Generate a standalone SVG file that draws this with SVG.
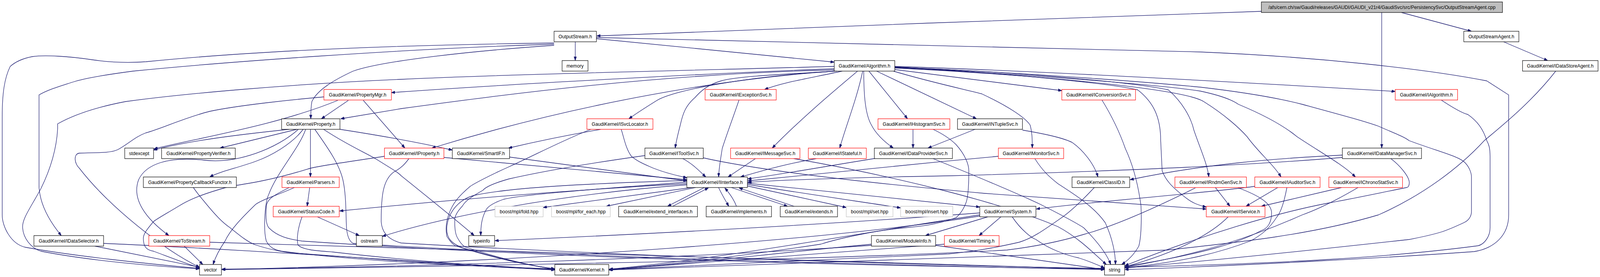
<svg xmlns="http://www.w3.org/2000/svg" width="4386" height="709" viewBox="0 0 4386 709">
<style>
rect.n{fill:#ffffff;stroke:#000000;stroke-width:1.2}
rect.r{fill:#ffffff;stroke:#ff0000;stroke-width:1.2}
rect.g{fill:#ffffff;stroke:#bfbfbf;stroke-width:1.2}
rect.m{fill:#bfbfbf;stroke:#000000;stroke-width:1.2}
text{font-family:"Liberation Sans",Arial,sans-serif;font-size:13px;fill:#000000;text-anchor:middle}
path.e{fill:none;stroke:#191970;stroke-width:1.3;marker-end:url(#arr)}
</style>
<defs>
<marker id="arr" viewBox="0 0 10 7" refX="10" refY="3.5" markerWidth="10" markerHeight="7" markerUnits="userSpaceOnUse" orient="auto">
<path d="M0,0 L10,3.5 L0,7 Z" fill="#191970" stroke="#191970"/>
</marker>
</defs>
<rect width="4386" height="709" fill="#ffffff"/>
<g id="diagram" transform="scale(0.9338,1)">
<g id="edges">
<path class="e" d="M3458,29 C3000,45 2100,72 1636,92"/>
<path class="e" d="M3842,32 L4034,80"/>
<path class="e" d="M3788,32 L3788,379"/>
<path class="e" d="M4122,107 L4243,155"/>
<path class="e" d="M1577,107 L1577,155"/>
<path class="e" d="M1635,99 L2287,159"/>
<path class="e" d="M1635,96 C1900,99 2400,110 3290,133 C3600,145 3900,175 4076,207 L4136,243 L4136,550 C4136,600 4100,635 4041,644 C3800,660 3400,680 3084,690"/>
<path class="e" d="M1519,110 C1100,115 700,130 400,158 C340,162 290,158 253,153 C190,144 120,140 88,145 C60,150 40,160 28,170 C12,200 6,240 6,300 L6,550 C6,580 30,625 70,633 C200,655 400,675 547,687"/>
<path class="e" d="M1519,113 C1100,125 600,160 365,182 C300,190 231,200 200,210 C160,222 130,230 107,243 L107,480 C110,520 130,560 168,603"/>
<path class="e" d="M1519,116 C1300,130 1050,155 968,182 C915,205 870,230 855,260 C852,275 852,290 852,304"/>
<path class="e" d="M2287,176 C2000,185 1400,215 1073,237"/>
<path class="e" d="M2287,170 C1900,180 1400,190 1100,203 C800,215 500,240 344,260 C260,275 200,295 158,317 L158,330 C155,380 140,430 112,483 C85,530 60,560 62,583 C64,610 85,635 112,643 C250,668 430,682 547,688"/>
<path class="e" d="M2287,179 C1800,190 1400,240 1100,278 L934,304"/>
<path class="e" d="M2290,182 C2000,200 1600,260 1184,379"/>
<path class="e" d="M2292,182 C2050,195 1850,230 1801,257 C1770,275 1745,290 1724,304"/>
<path class="e" d="M2309,182 C2220,200 2150,210 2096,229"/>
<path class="e" d="M2295,182 C2150,190 2020,195 1977,207 C1940,217 1921,233 1905,250 C1880,270 1872,290 1865,320 C1858,345 1854,360 1851,379"/>
<path class="e" d="M2351,182 C2290,230 2200,300 2117,379"/>
<path class="e" d="M2365,182 C2350,250 2320,320 2302,379"/>
<path class="e" d="M2368,182 C2368,230 2370,290 2389,320 C2400,340 2420,360 2449,379"/>
<path class="e" d="M2382,182 L2488,304"/>
<path class="e" d="M2403,182 L2677,304"/>
<path class="e" d="M2449,182 C2550,210 2650,230 2691,240 C2760,270 2810,300 2824,320 C2830,340 2830,360 2830,379"/>
<path class="e" d="M2453,178 L2911,232"/>
<path class="e" d="M2453,170 C2800,180 3300,205 3825,234"/>
<path class="e" d="M2453,172 C2800,185 3100,210 3203,230 C3240,260 3265,300 3273,333 C3290,380 3310,420 3314,453"/>
<path class="e" d="M2453,174 C2900,195 3250,230 3300,260 C3360,295 3400,330 3419,350 C3450,390 3490,420 3512,453"/>
<path class="e" d="M2453,173 C2900,195 3200,220 3290,233 C3350,245 3380,257 3395,267 C3480,300 3530,330 3556,350 C3620,390 3680,420 3716,453"/>
<path class="e" d="M2453,171 C2800,190 3050,215 3119,230 C3160,260 3182,297 3182,360 L3186,437 C3195,460 3210,477 3252,507 C3270,520 3285,525 3307,530"/>
<path class="e" d="M2453,172 C2900,190 3200,215 3290,223 C3400,235 3500,250 3570,267 C3680,295 3740,310 3779,323 C3820,340 3850,350 3863,360 C3950,390 4000,400 4017,417 C4030,430 4034,445 4034,453 L4034,541 C4034,555 4025,565 4013,570 C3990,580 3970,588 3954,593 C3920,603 3890,608 3863,613 C3600,640 3350,665 3084,686"/>
<path class="e" d="M955,257 L881,304"/>
<path class="e" d="M926,257 C760,320 560,350 422,381"/>
<path class="e" d="M996,257 L1110,379"/>
<path class="e" d="M888,248 C800,255 650,270 575,285 C510,300 440,330 400,340 C370,350 350,370 323,383 C300,393 260,390 217,392 C200,395 205,420 217,430 C300,530 450,640 547,684"/>
<path class="e" d="M793,331 C650,345 520,360 421,384"/>
<path class="e" d="M814,331 L603,379"/>
<path class="e" d="M818,331 C760,380 650,420 560,410 C460,400 400,420 380,460 C360,510 400,560 463,603"/>
<path class="e" d="M831,331 C800,370 740,400 701,413 C650,430 600,440 575,453"/>
<path class="e" d="M851,331 L851,453"/>
<path class="e" d="M838,331 C820,380 760,440 737,497 C725,520 722,590 730,617 C740,635 755,640 772,643 C1000,670 1300,682 1521,688"/>
<path class="e" d="M863,331 C900,380 930,420 940,460 C950,500 948,560 950,583 C952,605 958,618 968,623 C1600,660 2500,680 3028,690"/>
<path class="e" d="M887,331 C950,370 1000,390 1031,407 C1070,430 1090,440 1100,450 C1180,510 1260,570 1300,603"/>
<path class="e" d="M932,331 C1050,348 1150,365 1240,384"/>
<path class="e" d="M849,480 L842,528"/>
<path class="e" d="M807,480 C760,500 720,510 701,523 C660,560 630,590 617,617 C600,640 590,660 584,677"/>
<path class="e" d="M793,480 C750,500 730,510 730,530 C728,560 730,575 737,583 C760,605 790,612 828,617 C1500,660 2400,682 3028,688"/>
<path class="e" d="M870,555 L985,603"/>
<path class="e" d="M828,555 C818,580 812,610 817,627 C830,640 870,642 912,645 C1100,665 1300,680 1521,690"/>
<path class="e" d="M505,630 L556,677"/>
<path class="e" d="M575,620 C1000,630 2000,665 3028,689"/>
<path class="e" d="M260,630 L547,684"/>
<path class="e" d="M284,623 C700,640 1100,668 1521,690"/>
<path class="e" d="M530,480 C545,500 555,510 561,517 C590,550 610,570 631,583 C660,605 680,620 701,627 C760,645 800,648 842,650 C1100,668 1300,682 1521,691"/>
<path class="e" d="M1217,403 L1883,460"/>
<path class="e" d="M1054,400 C950,415 870,425 842,433 C750,460 680,470 631,477 C560,495 520,510 491,527 C450,550 430,560 421,567 C400,590 393,600 393,610 C393,630 400,640 421,643 C470,660 510,675 547,685"/>
<path class="e" d="M1121,406 C1110,420 1100,430 1080,440 C1050,460 1045,500 1045,567 C1047,600 1070,615 1100,622 C1800,660 2600,680 3028,687"/>
<path class="e" d="M1397,402 L1883,463"/>
<path class="e" d="M1647,331 C1560,345 1480,360 1394,379"/>
<path class="e" d="M1703,331 C1710,350 1715,380 1731,400 C1750,415 1773,423 1790,430 C1830,445 1860,450 1883,455"/>
<path class="e" d="M1620,331 C1540,360 1460,400 1395,427 C1340,450 1300,470 1289,477 C1260,500 1240,520 1230,550 C1222,570 1222,590 1225,605 C1235,620 1245,628 1251,630 C1350,660 1450,680 1521,688"/>
<path class="e" d="M1872,406 C1900,420 1920,440 1935,453"/>
<path class="e" d="M1928,404 C2100,440 2400,470 2700,495 C3000,515 3200,528 3307,535"/>
<path class="e" d="M1769,398 C1600,420 1480,440 1395,458 C1350,470 1330,480 1324,487 C1290,505 1275,515 1268,527 C1255,540 1248,550 1247,560 C1246,580 1248,600 1255,610 C1262,622 1268,628 1275,632 C1380,665 1460,680 1521,689"/>
<path class="e" d="M2071,406 L1996,453"/>
<path class="e" d="M2176,406 C2450,450 2750,520 2900,580 C2960,610 3000,650 3033,677"/>
<path class="e" d="M2026,256 C2010,300 1990,350 1980,380 C1975,410 1971,430 1970,453"/>
<path class="e" d="M2238,406 C2150,420 2080,440 2030,453"/>
<path class="e" d="M2403,405 C2300,420 2150,445 2050,458"/>
<path class="e" d="M2558,406 C2700,460 2800,500 2852,523 C2920,555 2950,570 2971,583 C3010,620 3035,650 3045,677"/>
<path class="e" d="M2503,331 L2503,379"/>
<path class="e" d="M2558,331 C2590,345 2610,360 2621,370 C2645,395 2656,420 2656,437 C2656,470 2655,500 2649,517 C2640,540 2630,550 2621,557 C2570,575 2520,580 2481,583 C2400,590 2300,610 2250,625 C2000,660 1800,680 1669,690"/>
<path class="e" d="M2673,331 L2544,379"/>
<path class="e" d="M2803,333 C2880,345 2920,355 2940,365 C2970,385 3000,420 3010,453"/>
<path class="e" d="M2737,400 C2500,420 2250,445 2050,463"/>
<path class="e" d="M2837,406 C2860,440 2880,455 2900,470 C2950,500 3000,530 3030,570 C3050,610 3058,650 3058,677"/>
<path class="e" d="M3021,256 C3050,300 3070,340 3085,380 C3105,420 3120,470 3128,527 C3130,570 3128,610 3122,630 C3110,650 3095,665 3075,677"/>
<path class="e" d="M3000,480 C2960,520 2930,545 2906,560 C2860,590 2830,610 2794,620 C2700,640 2650,645 2600,650 C2200,670 1900,682 1669,690"/>
<path class="e" d="M3680,397 C3500,405 3300,420 3098,460"/>
<path class="e" d="M3680,403 C3400,425 3000,440 2600,450 C2300,455 2150,460 2050,467"/>
<path class="e" d="M3813,406 C3840,425 3860,450 3863,463 C3865,475 3860,480 3856,480 C3750,500 3700,510 3640,520 C3500,545 3300,600 3084,680"/>
<path class="e" d="M4265,182 C4200,260 4120,320 4069,360 C4000,430 3900,500 3779,550 C3600,600 3400,620 3200,640 C2500,665 2000,682 1669,691"/>
<path class="e" d="M3951,256 C3990,280 4010,290 4024,293 C4050,310 4066,330 4076,360 C4082,370 4085,380 4085,400 L4085,583 C4085,605 4070,625 4052,629 C3800,660 3500,675 3084,684"/>
<path class="e" d="M3332,480 L3372,528"/>
<path class="e" d="M3277,481 C3150,540 3050,580 2971,600 C2900,620 2830,632 2760,640 C2300,665 1200,682 608,690"/>
<path class="e" d="M3395,481 C3450,500 3486,520 3486,545 C3486,570 3475,585 3458,590 C3400,620 3300,650 3084,682"/>
<path class="e" d="M3503,480 L3416,528"/>
<path class="e" d="M3440,477 C3300,495 3000,515 2841,535"/>
<path class="e" d="M3528,480 C3520,520 3510,545 3500,556 C3480,585 3460,600 3430,616 C3350,645 3250,670 3084,685"/>
<path class="e" d="M3678,480 L3458,528"/>
<path class="e" d="M3723,480 C3650,520 3600,540 3570,550 C3450,600 3300,650 3084,684"/>
<path class="e" d="M3367,555 C3330,590 3250,640 3084,683"/>
<path class="e" d="M1896,480 L1489,531"/>
<path class="e" d="M1907,480 L1662,528"/>
<path class="e" d="M1931,480 L1830,528"/>
<path class="e" d="M1844,528 L1942,481"/>
<path class="e" d="M1970,480 C1980,500 1990,515 1998,528"/>
<path class="e" d="M2019,528 C2012,510 2000,495 1987,481"/>
<path class="e" d="M2005,480 L2159,528"/>
<path class="e" d="M2177,528 L2026,481"/>
<path class="e" d="M2049,476 L2320,531"/>
<path class="e" d="M2049,472 C2200,495 2350,515 2469,532"/>
<path class="e" d="M2049,469 C2300,495 2550,515 2686,530"/>
<path class="e" d="M1883,470 C1500,490 1200,515 931,540"/>
<path class="e" d="M1883,473 C1500,500 1200,560 1048,605"/>
<path class="e" d="M1883,466 C1700,480 1450,495 1381,510 C1350,520 1335,530 1331,540 C1320,560 1318,580 1318,603"/>
<path class="e" d="M1883,462 C1600,470 1400,480 1300,500 C1260,510 1230,540 1225,580 C1222,610 1240,625 1270,635 C1400,670 1470,682 1521,689"/>
<path class="e" d="M2686,550 C2400,590 2000,660 1670,689"/>
<path class="e" d="M2686,545 C2400,565 2000,590 1357,616"/>
<path class="e" d="M2686,553 C2300,610 1500,670 608,690"/>
<path class="e" d="M2708,555 L2537,603"/>
<path class="e" d="M2744,555 L2684,603"/>
<path class="e" d="M2775,555 C2800,590 2830,610 2840,613 C2880,640 2930,655 2957,660 C2990,670 3010,678 3028,686"/>
<path class="e" d="M2565,628 L3028,690"/>
<path class="e" d="M2389,625 C2100,650 1900,675 1670,690"/>
<path class="e" d="M2389,628 C1900,660 1200,682 608,689"/>
<path class="e" d="M2589,625 C2200,650 1900,675 1670,690"/>
</g>
<g id="nodes">
<g id="n-main"><rect class="m" x="3458" y="5" width="661" height="27"/><text x="3788.5" y="23">/afs/cern.ch/sw/Gaudi/releases/GAUDI/GAUDI_v21r4/GaudiSvc/src/PersistencySvc/OutputStreamAgent.cpp</text></g>
<g id="n-OutputStream"><rect class="n" x="1519" y="80" width="116" height="27"/><text x="1577" y="98">OutputStream.h</text></g>
<g id="n-OutputStreamAgent"><rect class="n" x="4013" y="80" width="151" height="27"/><text x="4088.5" y="98">OutputStreamAgent.h</text></g>
<g id="n-memory"><rect class="n" x="1541" y="155" width="71" height="27"/><text x="1576.5" y="173">memory</text></g>
<g id="n-Algorithm"><rect class="n" x="2287" y="155" width="166" height="27"/><text x="2370" y="173">GaudiKernel/Algorithm.h</text></g>
<g id="n-IDataStoreAgent"><rect class="n" x="4174" y="155" width="207" height="27"/><text x="4277.5" y="173">GaudiKernel/IDataStoreAgent.h</text></g>
<g id="n-PropertyMgr"><rect class="r" x="888" y="229" width="185" height="27"/><text x="980.5" y="247">GaudiKernel/PropertyMgr.h</text></g>
<g id="n-IExceptionSvc"><rect class="r" x="1933" y="229" width="195" height="27"/><text x="2030.5" y="247">GaudiKernel/IExceptionSvc.h</text></g>
<g id="n-IConversionSvc"><rect class="r" x="2911" y="229" width="202" height="27"/><text x="3012" y="247">GaudiKernel/IConversionSvc.h</text></g>
<g id="n-IAlgorithm"><rect class="r" x="3825" y="229" width="171" height="27"/><text x="3910.5" y="247">GaudiKernel/IAlgorithm.h</text></g>
<g id="n-Property"><rect class="n" x="772" y="304" width="160" height="27"/><text x="852" y="322">GaudiKernel/Property.h</text></g>
<g id="n-ISvcLocator"><rect class="r" x="1609" y="304" width="181" height="27"/><text x="1699.5" y="322">GaudiKernel/ISvcLocator.h</text></g>
<g id="n-IHistogramSvc"><rect class="r" x="2407" y="304" width="197" height="27"/><text x="2505.5" y="322">GaudiKernel/IHistogramSvc.h</text></g>
<g id="n-INTupleSvc"><rect class="n" x="2625" y="304" width="178" height="27"/><text x="2714" y="322">GaudiKernel/INTupleSvc.h</text></g>
<g id="n-stdexcept"><rect class="n" x="342" y="379" width="79" height="27"/><text x="381.5" y="397">stdexcept</text></g>
<g id="n-PropertyVerifier"><rect class="n" x="443" y="379" width="202" height="27"/><text x="544" y="397">GaudiKernel/PropertyVerifier.h</text></g>
<g id="n-IProperty"><rect class="r" x="1054" y="379" width="163" height="27"/><text x="1135.5" y="397">GaudiKernel/IProperty.h</text></g>
<g id="n-SmartIF"><rect class="n" x="1240" y="379" width="157" height="27"/><text x="1318.5" y="397">GaudiKernel/SmartIF.h</text></g>
<g id="n-IToolSvc"><rect class="n" x="1768" y="379" width="160" height="27"/><text x="1848" y="397">GaudiKernel/IToolSvc.h</text></g>
<g id="n-IMessageSvc"><rect class="r" x="2003" y="379" width="190" height="27"/><text x="2098" y="397">GaudiKernel/IMessageSvc.h</text></g>
<g id="n-IStateful"><rect class="r" x="2216" y="379" width="159" height="27"/><text x="2295.5" y="397">GaudiKernel/IStateful.h</text></g>
<g id="n-IDataProviderSvc"><rect class="n" x="2397" y="379" width="214" height="27"/><text x="2504" y="397">GaudiKernel/IDataProviderSvc.h</text></g>
<g id="n-IMonitorSvc"><rect class="r" x="2737" y="379" width="179" height="27"/><text x="2826.5" y="397">GaudiKernel/IMonitorSvc.h</text></g>
<g id="n-IDataManagerSvc"><rect class="n" x="3680" y="379" width="217" height="27"/><text x="3788.5" y="397">GaudiKernel/IDataManagerSvc.h</text></g>
<g id="n-PropertyCallbackFunctor"><rect class="n" x="393" y="453" width="255" height="27"/><text x="520.5" y="471">GaudiKernel/PropertyCallbackFunctor.h</text></g>
<g id="n-Parsers"><rect class="r" x="773" y="453" width="157" height="27"/><text x="851.5" y="471">GaudiKernel/Parsers.h</text></g>
<g id="n-IInterface"><rect class="n" x="1883" y="453" width="166" height="27"/><text x="1966" y="471">GaudiKernel/IInterface.h</text></g>
<g id="n-ClassID"><rect class="n" x="2939" y="453" width="158" height="27"/><text x="3018" y="471">GaudiKernel/ClassID.h</text></g>
<g id="n-IRndmGenSvc"><rect class="r" x="3221" y="453" width="196" height="27"/><text x="3319" y="471">GaudiKernel/IRndmGenSvc.h</text></g>
<g id="n-IAuditorSvc"><rect class="r" x="3440" y="453" width="179" height="27"/><text x="3529.5" y="471">GaudiKernel/IAuditorSvc.h</text></g>
<g id="n-IChronoStatSvc"><rect class="r" x="3643" y="453" width="202" height="27"/><text x="3744" y="471">GaudiKernel/IChronoStatSvc.h</text></g>
<g id="n-StatusCode"><rect class="r" x="749" y="528" width="181" height="27"/><text x="839.5" y="546">GaudiKernel/StatusCode.h</text></g>
<g id="n-fold"><rect class="g" x="1357" y="528" width="132" height="27"/><text x="1423" y="546">boost/mpl/fold.hpp</text></g>
<g id="n-for_each"><rect class="g" x="1512" y="528" width="161" height="27"/><text x="1592.5" y="546">boost/mpl/for_each.hpp</text></g>
<g id="n-extend_interfaces"><rect class="n" x="1696" y="528" width="216" height="27"/><text x="1804" y="546">GaudiKernel/extend_interfaces.h</text></g>
<g id="n-implements"><rect class="n" x="1936" y="528" width="179" height="27"/><text x="2025.5" y="546">GaudiKernel/implements.h</text></g>
<g id="n-extends"><rect class="n" x="2139" y="528" width="157" height="27"/><text x="2217.5" y="546">GaudiKernel/extends.h</text></g>
<g id="n-set"><rect class="g" x="2320" y="528" width="128" height="27"/><text x="2384" y="546">boost/mpl/set.hpp</text></g>
<g id="n-insert"><rect class="g" x="2469" y="528" width="143" height="27"/><text x="2540.5" y="546">boost/mpl/insert.hpp</text></g>
<g id="n-System"><rect class="n" x="2686" y="528" width="154" height="27"/><text x="2763" y="546">GaudiKernel/System.h</text></g>
<g id="n-IService"><rect class="r" x="3307" y="528" width="161" height="27"/><text x="3387.5" y="546">GaudiKernel/IService.h</text></g>
<g id="n-IDataSelector"><rect class="n" x="93" y="603" width="191" height="27"/><text x="188.5" y="621">GaudiKernel/IDataSelector.h</text></g>
<g id="n-ToStream"><rect class="r" x="408" y="603" width="167" height="27"/><text x="491.5" y="621">GaudiKernel/ToStream.h</text></g>
<g id="n-ostream"><rect class="n" x="977" y="603" width="71" height="27"/><text x="1012.5" y="621">ostream</text></g>
<g id="n-typeinfo"><rect class="n" x="1285" y="603" width="71" height="27"/><text x="1320.5" y="621">typeinfo</text></g>
<g id="n-ModuleInfo"><rect class="n" x="2389" y="603" width="176" height="27"/><text x="2477" y="621">GaudiKernel/ModuleInfo.h</text></g>
<g id="n-Timing"><rect class="r" x="2589" y="603" width="150" height="27"/><text x="2664" y="621">GaudiKernel/Timing.h</text></g>
<g id="n-vector"><rect class="n" x="547" y="677" width="60" height="27"/><text x="577" y="695">vector</text></g>
<g id="n-Kernel"><rect class="n" x="1521" y="677" width="148" height="27"/><text x="1595" y="695">GaudiKernel/Kernel.h</text></g>
<g id="n-string"><rect class="n" x="3028" y="677" width="55" height="27"/><text x="3055.5" y="695">string</text></g>
</g>
</g>
</svg>
